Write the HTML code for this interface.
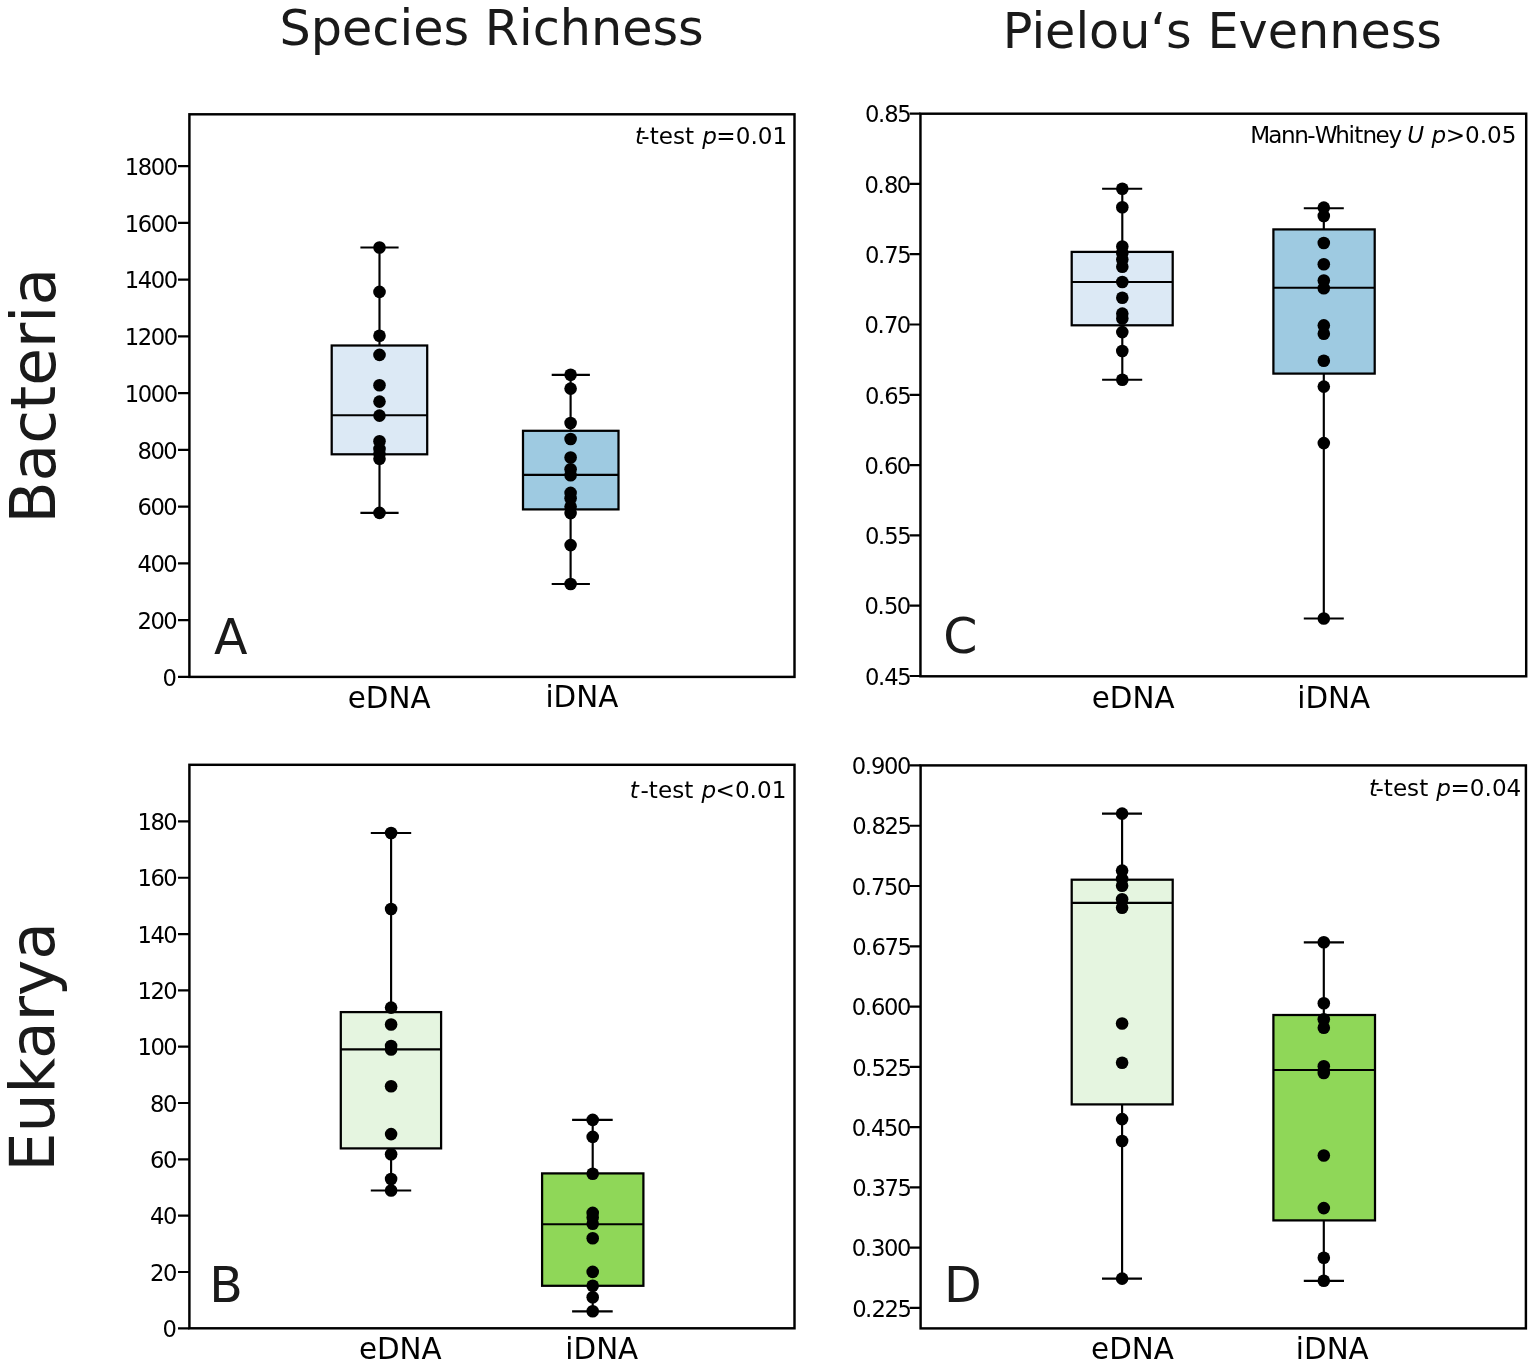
<!DOCTYPE html>
<html lang="en"><head><meta charset="utf-8"><title>Species Richness and Pielou‘s Evenness</title>
<style>
html,body{margin:0;padding:0;background:#fff;}
body{width:1535px;height:1367px;overflow:hidden;}
svg{display:block;font-family:'DejaVu Sans','Liberation Sans',sans-serif;}
.sp{fill:none;stroke:#000;stroke-width:2.45;stroke-linecap:square;stroke-linejoin:miter;}
.tk{stroke:#000;stroke-width:2.2;fill:none;}
.bx{stroke:#000;stroke-width:2.25;stroke-linejoin:miter;}
.ln{stroke:#000;stroke-width:2.15;fill:none;}
.dt{fill:#000;}
.tl{font-size:23.8px;fill:#000;}
.xl{font-size:29.4px;fill:#000;}
.an{font-size:23.5px;fill:#000;}
.lt{font-size:49px;fill:#1a1a1a;}
.ti{font-size:49.25px;fill:#1a1a1a;}
.rw{font-size:61.5px;fill:#1a1a1a;}
.it{font-style:italic;}
</style></head><body>
<svg width="1535" height="1367" viewBox="0 0 1535 1367">
<rect x="0" y="0" width="1535" height="1367" fill="#fff"/>
<text id="t1" class="ti" x="279.56" y="44.9">Species Richness</text>
<text id="t2" class="ti" x="1002.8" y="48">Pielou‘s Evenness</text>
<text id="r1" class="rw" transform="translate(55.4 523.6) rotate(-90)">Bacteria</text>
<text id="r2" class="rw" transform="translate(53.9 1171.4) rotate(-90)">Eukarya</text>
<g id="panelA">
<g>
<path class="ln" d="M379.5 247.5V345.5M379.5 454.3V512.9"/>
<path class="ln" d="M360.4 247.5H398.6M360.4 512.9H398.6"/>
<rect class="bx" x="331.7" y="345.5" width="95.5" height="108.8" fill="#dce9f5"/>
<path class="ln" d="M331.7 415.2H427.2"/>
<circle class="dt" cx="379.5" cy="247.5" r="6.3"/>
<circle class="dt" cx="379.5" cy="291.9" r="6.3"/>
<circle class="dt" cx="379.5" cy="335.7" r="6.3"/>
<circle class="dt" cx="379.5" cy="354.9" r="6.3"/>
<circle class="dt" cx="379.5" cy="385.3" r="6.3"/>
<circle class="dt" cx="379.5" cy="401.6" r="6.3"/>
<circle class="dt" cx="379.5" cy="415.6" r="6.3"/>
<circle class="dt" cx="379.5" cy="441.2" r="6.3"/>
<circle class="dt" cx="379.5" cy="449" r="6.3"/>
<circle class="dt" cx="379.5" cy="453.6" r="6.3"/>
<circle class="dt" cx="379.5" cy="458.8" r="6.3"/>
<circle class="dt" cx="379.5" cy="512.9" r="6.3"/>
</g>
<g>
<path class="ln" d="M570.6 374.8V430.8M570.6 509.4V584"/>
<path class="ln" d="M551.7 374.8H589.9M551.7 584H589.9"/>
<rect class="bx" x="523" y="430.8" width="95.5" height="78.6" fill="#9ecae1"/>
<path class="ln" d="M523 474.8H618.5"/>
<circle class="dt" cx="570.6" cy="374.8" r="6.3"/>
<circle class="dt" cx="570.6" cy="388.6" r="6.3"/>
<circle class="dt" cx="570.6" cy="423" r="6.3"/>
<circle class="dt" cx="570.6" cy="439" r="6.3"/>
<circle class="dt" cx="570.6" cy="457.5" r="6.3"/>
<circle class="dt" cx="570.6" cy="469.3" r="6.3"/>
<circle class="dt" cx="570.6" cy="475.3" r="6.3"/>
<circle class="dt" cx="570.6" cy="492.9" r="6.3"/>
<circle class="dt" cx="570.6" cy="498.2" r="6.3"/>
<circle class="dt" cx="570.6" cy="506.6" r="6.3"/>
<circle class="dt" cx="570.6" cy="513.1" r="6.3"/>
<circle class="dt" cx="570.6" cy="545.1" r="6.3"/>
<circle class="dt" cx="570.6" cy="584" r="6.3"/>
</g>
<rect class="sp" x="189.4" y="114.3" width="605.1" height="562.6"/>
<path class="tk" d="M178 676.9H189.4M178 620.14H189.4M178 563.38H189.4M178 506.62H189.4M178 449.86H189.4M178 393.1H189.4M178 336.34H189.4M178 279.58H189.4M178 222.82H189.4M178 166.06H189.4"/>
<text class="tl" transform="scale(0.952 1)" x="170.78" y="685.65">0</text>
<text class="tl" transform="scale(0.952 1)" x="144.36 157.98 171.59" y="628.89">200</text>
<text class="tl" transform="scale(0.952 1)" x="144.36 157.98 171.59" y="572.13">400</text>
<text class="tl" transform="scale(0.952 1)" x="144.36 157.98 171.59" y="515.37">600</text>
<text class="tl" transform="scale(0.952 1)" x="144.36 157.98 171.59" y="458.61">800</text>
<text class="tl" transform="scale(0.952 1)" x="131.15 144.77 158.39 172" y="401.85">1000</text>
<text class="tl" transform="scale(0.952 1)" x="131.15 144.77 158.39 172" y="345.09">1200</text>
<text class="tl" transform="scale(0.952 1)" x="131.15 144.77 158.39 172" y="288.33">1400</text>
<text class="tl" transform="scale(0.952 1)" x="131.15 144.77 158.39 172" y="231.57">1600</text>
<text class="tl" transform="scale(0.952 1)" x="131.15 144.77 158.39 172" y="174.81">1800</text>
<text id="xlA0" class="xl" x="347.71" y="707.6">eDNA</text>
<text id="xlA1" class="xl" x="545.43" y="707.2">iDNA</text>
<text id="ltA" class="lt" x="214.02" y="653.6">A</text>
<text id="anA" class="an" transform="scale(0.983 1)" y="143.6" xml:space="preserve"><tspan class="it" x="645.86">t</tspan><tspan x="652.43 660.91 670.12 684.58 696.83 706.04">-test </tspan><tspan class="it" x="714.32">p</tspan><tspan x="728.73 748.42 763.37 770.84 785.79">=0.01</tspan></text>
</g>
<g id="panelB">
<g>
<path class="ln" d="M391.1 833V1012.1M391.1 1148.4V1190.5"/>
<path class="ln" d="M370.8 833H411.2M370.8 1190.5H411.2"/>
<rect class="bx" x="340.8" y="1012.1" width="100.3" height="136.3" fill="#e5f5e0"/>
<path class="ln" d="M340.8 1049.3H441.1"/>
<circle class="dt" cx="391.1" cy="833" r="6.3"/>
<circle class="dt" cx="391.1" cy="909" r="6.3"/>
<circle class="dt" cx="391.1" cy="1007.6" r="6.3"/>
<circle class="dt" cx="391.1" cy="1024.5" r="6.3"/>
<circle class="dt" cx="391.1" cy="1046" r="6.3"/>
<circle class="dt" cx="391.1" cy="1049.5" r="6.3"/>
<circle class="dt" cx="391.1" cy="1086.2" r="6.3"/>
<circle class="dt" cx="391.1" cy="1134.1" r="6.3"/>
<circle class="dt" cx="391.1" cy="1154.3" r="6.3"/>
<circle class="dt" cx="391.1" cy="1179" r="6.3"/>
<circle class="dt" cx="391.1" cy="1190.5" r="6.3"/>
</g>
<g>
<path class="ln" d="M592.7 1119.9V1173.4M592.7 1285.8V1311.3"/>
<path class="ln" d="M572.1 1119.9H612.7M572.1 1311.3H612.7"/>
<rect class="bx" x="542.1" y="1173.4" width="101.3" height="112.4" fill="#8fd758"/>
<path class="ln" d="M542.1 1224.2H643.4"/>
<circle class="dt" cx="592.7" cy="1119.9" r="6.3"/>
<circle class="dt" cx="592.7" cy="1136.9" r="6.3"/>
<circle class="dt" cx="592.7" cy="1173.8" r="6.3"/>
<circle class="dt" cx="592.7" cy="1212.9" r="6.3"/>
<circle class="dt" cx="592.7" cy="1217.4" r="6.3"/>
<circle class="dt" cx="592.7" cy="1223.7" r="6.3"/>
<circle class="dt" cx="592.7" cy="1238.2" r="6.3"/>
<circle class="dt" cx="592.7" cy="1271.9" r="6.3"/>
<circle class="dt" cx="592.7" cy="1285.8" r="6.3"/>
<circle class="dt" cx="592.7" cy="1297.3" r="6.3"/>
<circle class="dt" cx="592.7" cy="1311.3" r="6.3"/>
</g>
<rect class="sp" x="189.4" y="764.8" width="605.1" height="563.5"/>
<path class="tk" d="M178 1328.3H189.4M178 1271.98H189.4M178 1215.66H189.4M178 1159.34H189.4M178 1103.02H189.4M178 1046.7H189.4M178 990.38H189.4M178 934.06H189.4M178 877.74H189.4M178 821.42H189.4"/>
<text class="tl" transform="scale(0.952 1)" x="170.78" y="1337.05">0</text>
<text class="tl" transform="scale(0.952 1)" x="157.57 171.18" y="1280.73">20</text>
<text class="tl" transform="scale(0.952 1)" x="157.57 171.18" y="1224.41">40</text>
<text class="tl" transform="scale(0.952 1)" x="157.57 171.18" y="1168.09">60</text>
<text class="tl" transform="scale(0.952 1)" x="157.57 171.18" y="1111.77">80</text>
<text class="tl" transform="scale(0.952 1)" x="144.36 157.98 171.59" y="1055.45">100</text>
<text class="tl" transform="scale(0.952 1)" x="144.36 157.98 171.59" y="999.13">120</text>
<text class="tl" transform="scale(0.952 1)" x="144.36 157.98 171.59" y="942.81">140</text>
<text class="tl" transform="scale(0.952 1)" x="144.36 157.98 171.59" y="886.49">160</text>
<text class="tl" transform="scale(0.952 1)" x="144.36 157.98 171.59" y="830.17">180</text>
<text id="xlB0" class="xl" x="358.91" y="1359.2">eDNA</text>
<text id="xlB1" class="xl" x="565.33" y="1358.8">iDNA</text>
<text id="ltB" class="lt" x="209.19" y="1301.8">B</text>
<text id="anB" class="an" transform="scale(0.983 1)" y="797.7" xml:space="preserve"><tspan class="it" x="640.57">t</tspan><tspan x="651.62 660.1 669.31 683.77 696.01 705.23">-test </tspan><tspan class="it" x="713.51">p</tspan><tspan x="727.92 747.61 762.56 770.03 784.98">&lt;0.01</tspan></text>
</g>
<g id="panelC">
<g>
<path class="ln" d="M1122.3 188.7V251.9M1122.3 325.3V379.7"/>
<path class="ln" d="M1102.1 188.7H1142.2M1102.1 379.7H1142.2"/>
<rect class="bx" x="1071.7" y="251.9" width="101" height="73.4" fill="#dce9f5"/>
<path class="ln" d="M1071.7 282H1172.7"/>
<circle class="dt" cx="1122.3" cy="188.7" r="6.3"/>
<circle class="dt" cx="1122.3" cy="207.3" r="6.3"/>
<circle class="dt" cx="1122.3" cy="246.5" r="6.3"/>
<circle class="dt" cx="1122.3" cy="253" r="6.3"/>
<circle class="dt" cx="1122.3" cy="259.5" r="6.3"/>
<circle class="dt" cx="1122.3" cy="266.7" r="6.3"/>
<circle class="dt" cx="1122.3" cy="282" r="6.3"/>
<circle class="dt" cx="1122.3" cy="297.8" r="6.3"/>
<circle class="dt" cx="1122.3" cy="313.6" r="6.3"/>
<circle class="dt" cx="1122.3" cy="318.5" r="6.3"/>
<circle class="dt" cx="1122.3" cy="332.1" r="6.3"/>
<circle class="dt" cx="1122.3" cy="351" r="6.3"/>
<circle class="dt" cx="1122.3" cy="379.7" r="6.3"/>
</g>
<g>
<path class="ln" d="M1323.8 208.2V229.4M1323.8 373.6V618.5"/>
<path class="ln" d="M1303.8 208.2H1343.8M1303.8 618.5H1343.8"/>
<rect class="bx" x="1273.4" y="229.4" width="101.3" height="144.2" fill="#9ecae1"/>
<path class="ln" d="M1273.4 287.7H1374.7"/>
<circle class="dt" cx="1323.8" cy="207.6" r="6.3"/>
<circle class="dt" cx="1323.8" cy="216" r="6.3"/>
<circle class="dt" cx="1323.8" cy="243" r="6.3"/>
<circle class="dt" cx="1323.8" cy="264.2" r="6.3"/>
<circle class="dt" cx="1323.8" cy="280.5" r="6.3"/>
<circle class="dt" cx="1323.8" cy="288.3" r="6.3"/>
<circle class="dt" cx="1323.8" cy="325.4" r="6.3"/>
<circle class="dt" cx="1323.8" cy="333.8" r="6.3"/>
<circle class="dt" cx="1323.8" cy="360.8" r="6.3"/>
<circle class="dt" cx="1323.8" cy="386.6" r="6.3"/>
<circle class="dt" cx="1323.8" cy="443.1" r="6.3"/>
<circle class="dt" cx="1323.8" cy="618.5" r="6.3"/>
</g>
<rect class="sp" x="920.45" y="113.7" width="605.75" height="562.6"/>
<path class="tk" d="M909.6 676H920.45M909.6 605.7H920.45M909.6 535.4H920.45M909.6 465.1H920.45M909.6 394.8H920.45M909.6 324.5H920.45M909.6 254.2H920.45M909.6 183.9H920.45M909.6 113.6H920.45"/>
<text class="tl" transform="scale(0.952 1)" x="908.54 922.16 928.95 942.57" y="684.75">0.45</text>
<text class="tl" transform="scale(0.952 1)" x="908.04 921.66 928.45 942.07" y="614.45">0.50</text>
<text class="tl" transform="scale(0.952 1)" x="908.54 922.16 928.95 942.57" y="544.15">0.55</text>
<text class="tl" transform="scale(0.952 1)" x="908.04 921.66 928.45 942.07" y="473.85">0.60</text>
<text class="tl" transform="scale(0.952 1)" x="908.54 922.16 928.95 942.57" y="403.55">0.65</text>
<text class="tl" transform="scale(0.952 1)" x="908.04 921.66 928.45 942.07" y="333.25">0.70</text>
<text class="tl" transform="scale(0.952 1)" x="908.54 922.16 928.95 942.57" y="262.95">0.75</text>
<text class="tl" transform="scale(0.952 1)" x="908.04 921.66 928.45 942.07" y="192.65">0.80</text>
<text class="tl" transform="scale(0.952 1)" x="908.54 922.16 928.95 942.57" y="122.35">0.85</text>
<text id="xlC0" class="xl" x="1091.71" y="707.7">eDNA</text>
<text id="xlC1" class="xl" x="1297.23" y="707.7">iDNA</text>
<text id="ltC" class="lt" x="943.35" y="653.3">C</text>
<text id="anC" class="an" transform="scale(0.983 1)" y="143.4" xml:space="preserve"><tspan x="1271.92 1290.16 1303.12 1316.52 1329.92 1337.55 1358.46 1371.86 1377.74 1386.02 1399.42 1412.43 1424.94">Mann-Whitney </tspan><tspan class="it" x="1431.65">U</tspan><tspan x="1448.85"> </tspan><tspan class="it" x="1456.32">p</tspan><tspan x="1470.73 1490.42 1505.37 1512.84 1527.79">&gt;0.05</tspan></text>
</g>
<g id="panelD">
<g>
<path class="ln" d="M1122.1 813.6V879.7M1122.1 1104.4V1278.6"/>
<path class="ln" d="M1102 813.6H1142M1102 1278.6H1142"/>
<rect class="bx" x="1071.7" y="879.7" width="101" height="224.7" fill="#e5f5e0"/>
<path class="ln" d="M1071.7 902.9H1172.7"/>
<circle class="dt" cx="1122.1" cy="813.6" r="6.3"/>
<circle class="dt" cx="1122.1" cy="870.6" r="6.3"/>
<circle class="dt" cx="1122.1" cy="879" r="6.3"/>
<circle class="dt" cx="1122.1" cy="885.8" r="6.3"/>
<circle class="dt" cx="1122.1" cy="899.2" r="6.3"/>
<circle class="dt" cx="1122.1" cy="907.7" r="6.3"/>
<circle class="dt" cx="1122.1" cy="1023.5" r="6.3"/>
<circle class="dt" cx="1122.1" cy="1062.7" r="6.3"/>
<circle class="dt" cx="1122.1" cy="1119.1" r="6.3"/>
<circle class="dt" cx="1122.1" cy="1141" r="6.3"/>
<circle class="dt" cx="1122.1" cy="1278.6" r="6.3"/>
</g>
<g>
<path class="ln" d="M1323.8 942.3V1015M1323.8 1220.4V1280.9"/>
<path class="ln" d="M1303.8 942.3H1344M1303.8 1280.9H1344"/>
<rect class="bx" x="1273.4" y="1015" width="101.6" height="205.4" fill="#8fd758"/>
<path class="ln" d="M1273.4 1070H1375"/>
<circle class="dt" cx="1323.8" cy="942.3" r="6.3"/>
<circle class="dt" cx="1323.8" cy="1003.3" r="6.3"/>
<circle class="dt" cx="1323.8" cy="1019.2" r="6.3"/>
<circle class="dt" cx="1323.8" cy="1027.7" r="6.3"/>
<circle class="dt" cx="1323.8" cy="1066.3" r="6.3"/>
<circle class="dt" cx="1323.8" cy="1073" r="6.3"/>
<circle class="dt" cx="1323.8" cy="1155.5" r="6.3"/>
<circle class="dt" cx="1323.8" cy="1208.1" r="6.3"/>
<circle class="dt" cx="1323.8" cy="1257.8" r="6.3"/>
<circle class="dt" cx="1323.8" cy="1280.7" r="6.3"/>
</g>
<rect class="sp" x="920.6" y="765.4" width="605.3" height="563"/>
<path class="tk" d="M909.6 1307.9H920.6M909.6 1247.63H920.6M909.6 1187.36H920.6M909.6 1127.09H920.6M909.6 1066.82H920.6M909.6 1006.55H920.6M909.6 946.28H920.6M909.6 886.01H920.6M909.6 825.74H920.6M909.6 765.47H920.6"/>
<text class="tl" transform="scale(0.952 1)" x="895.13 908.74 915.54 929.15 942.77" y="1316.65">0.225</text>
<text class="tl" transform="scale(0.952 1)" x="894.63 908.24 915.04 928.65 942.27" y="1256.38">0.300</text>
<text class="tl" transform="scale(0.952 1)" x="895.13 908.74 915.54 929.15 942.77" y="1196.11">0.375</text>
<text class="tl" transform="scale(0.952 1)" x="894.63 908.24 915.04 928.65 942.27" y="1135.84">0.450</text>
<text class="tl" transform="scale(0.952 1)" x="895.13 908.74 915.54 929.15 942.77" y="1075.57">0.525</text>
<text class="tl" transform="scale(0.952 1)" x="894.63 908.24 915.04 928.65 942.27" y="1015.3">0.600</text>
<text class="tl" transform="scale(0.952 1)" x="895.13 908.74 915.54 929.15 942.77" y="955.03">0.675</text>
<text class="tl" transform="scale(0.952 1)" x="894.63 908.24 915.04 928.65 942.27" y="894.76">0.750</text>
<text class="tl" transform="scale(0.952 1)" x="895.13 908.74 915.54 929.15 942.77" y="834.49">0.825</text>
<text class="tl" transform="scale(0.952 1)" x="894.63 908.24 915.04 928.65 942.27" y="774.22">0.900</text>
<text id="xlD0" class="xl" x="1091.11" y="1359.2">eDNA</text>
<text id="xlD1" class="xl" x="1295.83" y="1358.8">iDNA</text>
<text id="ltD" class="lt" x="943.89" y="1302">D</text>
<text id="anD" class="an" transform="scale(0.983 1)" y="795.9" xml:space="preserve"><tspan class="it" x="1392.72">t</tspan><tspan x="1399.29 1407.77 1416.99 1431.44 1443.69 1452.9">-test </tspan><tspan class="it" x="1461.19">p</tspan><tspan x="1475.59 1495.28 1510.23 1517.7 1532.66">=0.04</tspan></text>
</g>
</svg>
</body></html>
